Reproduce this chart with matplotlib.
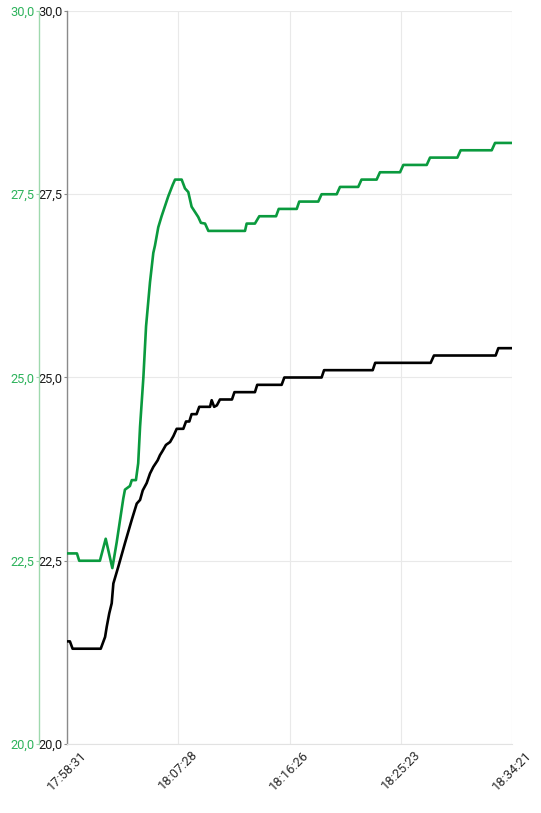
import matplotlib
matplotlib.use("Agg")
import matplotlib.pyplot as plt
from matplotlib.ticker import FixedLocator, FuncFormatter
import datetime as dt

plt.rcParams['font.family'] = ['Roboto', 'DejaVu Sans']

START = dt.datetime(2024, 1, 1, 17, 58, 31)

# green series: (seconds since 17:58:31, value)
green_t = [0, 48, 59, 159, 187, 219, 240, 272, 280, 304, 313, 333, 344, 353, 369,
           382, 401, 417, 425, 441, 457, 489, 511, 522, 554, 570, 586, 602, 618,
           634, 647, 667, 683, 860, 868, 908, 929, 1010, 1023, 1110, 1122, 1214,
           1230, 1303, 1319, 1407, 1423, 1496, 1512, 1609, 1625, 1738, 1754, 1886,
           1902, 2052, 2068, 2150]
green_v = [22.6, 22.6, 22.5, 22.5, 22.8, 22.4, 22.75, 23.35, 23.47, 23.52, 23.6, 23.6,
           23.83, 24.33, 25.0, 25.7, 26.3, 26.7, 26.8, 27.05, 27.2, 27.47, 27.63,
           27.7, 27.7, 27.58, 27.53, 27.33, 27.26, 27.19, 27.11, 27.1, 27.0, 27.0,
           27.1, 27.1, 27.2, 27.2, 27.3, 27.3, 27.4, 27.4, 27.5, 27.5, 27.6, 27.6,
           27.7, 27.7, 27.8, 27.8, 27.9, 27.9, 28.0, 28.0, 28.1, 28.1, 28.2, 28.2]

# black series
black_t = [0, 14, 27, 163, 184, 192, 204, 216, 224, 248, 280, 313, 337, 353, 366, 385,
           401, 417, 438, 449, 462, 478, 498, 514, 530, 562, 575, 591, 602, 626, 639,
           691, 699, 711, 724, 739, 797, 809, 908, 919, 1037, 1050, 1230, 1242, 1477,
           1489, 1757, 1773, 2071, 2084, 2150]
black_v = [21.4, 21.4, 21.3, 21.3, 21.46, 21.6, 21.78, 21.92, 22.19, 22.42, 22.74,
           23.06, 23.28, 23.33, 23.46, 23.56, 23.69, 23.78, 23.87, 23.94, 24.0, 24.08,
           24.12, 24.2, 24.3, 24.3, 24.4, 24.4, 24.5, 24.5, 24.6, 24.6, 24.69, 24.6,
           24.62, 24.7, 24.7, 24.8, 24.8, 24.9, 24.9, 25.0, 25.0, 25.1, 25.1, 25.2,
           25.2, 25.3, 25.3, 25.4, 25.4]

x_ticks = [0, 537, 1075, 1612, 2150]
y_ticks = [20.0, 22.5, 25.0, 27.5, 30.0]

GREEN = "#0a9a3e"
GREEN_TXT = "#2eb35c"
GREEN_AX = "#9fd9ae"

W, H = 541, 813
fig = plt.figure(figsize=(W / 100, H / 100), dpi=100)
ax = fig.add_axes([67 / W, (H - 744) / H, (512 - 67) / W, (744 - 11) / H])
ax2 = ax.twinx()

for a in (ax, ax2):
    a.set_xlim(x_ticks[0], x_ticks[-1])
    a.set_ylim(20, 30)
    a.yaxis.set_major_locator(FixedLocator(y_ticks))
    a.yaxis.set_major_formatter(FuncFormatter(lambda v, p: f"{v:.1f}".replace('.', ',')))
    for s in ('top', 'right', 'bottom'):
        a.spines[s].set_visible(False)

ax.patch.set_visible(False)
ax2.patch.set_visible(False)

# grid
ax.grid(True, color="#e9e9e9", linewidth=0.8)
ax.set_axisbelow(True)
ax.spines['bottom'].set_visible(True)
ax.spines['bottom'].set_color("#e2e2e2")
ax.xaxis.set_major_locator(FixedLocator(x_ticks))
ax.xaxis.set_major_formatter(FuncFormatter(
    lambda v, p: (START + dt.timedelta(seconds=int(round(v)))).strftime("%H:%M:%S")))
ax.tick_params(axis='x', length=0, pad=3, labelsize=9.3, labelcolor="#2a2a2a")
for lbl in ax.get_xticklabels():
    lbl.set_rotation(45)
    lbl.set_ha('center')
    lbl.set_va('top')

# black axis
ax.spines['left'].set_color("#8a8a8a")
ax.spines['left'].set_linewidth(1.0)
ax.tick_params(axis='y', direction='out', length=2.5, width=0.8, color="#8a8a8a",
               labelsize=9.3, labelcolor="#1a1a1a", pad=1)

# green axis (28 px to the left of the black one)
ax2.yaxis.set_ticks_position('left')
ax2.yaxis.set_label_position('left')
ax2.spines['left'].set_visible(True)
ax2.spines['left'].set_position(('outward', 28 * 0.72))
ax2.spines['left'].set_color(GREEN_AX)
ax2.spines['left'].set_linewidth(1.0)
ax2.tick_params(axis='y', which='both', direction='out', length=2.5, width=0.8,
                color=GREEN_AX, labelsize=9.3, labelcolor=GREEN_TXT, pad=1,
                left=True, labelleft=True, right=False, labelright=False)
ax2.tick_params(axis='x', bottom=False, labelbottom=False)

ax.plot(black_t, black_v, color="#000000", linewidth=1.9, solid_joinstyle='round', zorder=3)
ax2.plot(green_t, green_v, color=GREEN, linewidth=1.9, solid_joinstyle='round', zorder=3)

fig.savefig("out.png", dpi=100)
